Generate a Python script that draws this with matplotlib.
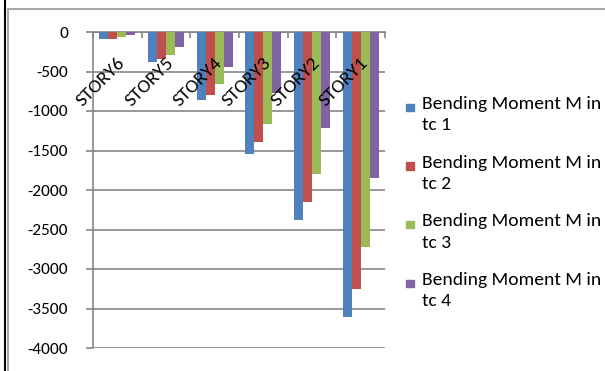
import numpy as np
import matplotlib.pyplot as plt
from matplotlib.lines import Line2D
from matplotlib.patches import Rectangle

plt.rcParams['font.family'] = ['Carlito', 'Lato', 'DejaVu Sans']

# 各层弯矩最小值 (tc 1 ~ tc 4)
stories = ['STORY6', 'STORY5', 'STORY4', 'STORY3', 'STORY2', 'STORY1']
tc1 = [-88, -386, -860, -1546, -2375, -3603]
tc2 = [-88, -343, -796, -1397, -2151, -3256]
tc3 = [-59, -288, -661, -1168, -1800, -2727]
tc4 = [-38, -190, -437, -767, -1219, -1846]
series = [tc1, tc2, tc3, tc4]
names = ['Bending Moment M in\ntc 1', 'Bending Moment M in\ntc 2',
         'Bending Moment M in\ntc 3', 'Bending Moment M in\ntc 4']
colors = ['#4F81BD', '#C0504D', '#9BBB59', '#8064A2']
yticks = np.arange(0, -4001, -500)

W, H = 605, 371
fig = plt.figure(figsize=(W / 100, H / 100), dpi=100)
ax = fig.add_axes([93 / W, 1 - 348 / H, 292 / W, 316 / H])

grid_c = '#868686'
x = np.arange(len(stories))
bw = 0.185
for k, (vals, c) in enumerate(zip(series, colors)):
    ax.bar(x + (k - 1.5) * bw, vals, width=bw, color=c, zorder=3)

ax.set_xlim(-0.5, len(stories) - 0.5)
ax.set_ylim(-4000, 0)
ax.set_yticks(yticks)
ax.set_yticklabels([str(v) for v in yticks])
ax.yaxis.grid(True, color=grid_c, lw=1.2, zorder=0)
ax.tick_params(axis='y', direction='out', length=5, width=1.2, color=grid_c,
               pad=13, labelsize=12.5)

# 分类轴在 0 处（顶部），刻度放在组边界
ax.xaxis.set_ticks_position('top')
ax.set_xticks([])
ax.set_xticks(np.arange(-0.5, len(stories)), minor=True)
ax.tick_params(axis='x', which='minor', direction='in', length=4, width=1.2,
               color=grid_c)
for side in ['right', 'bottom']:
    ax.spines[side].set_visible(False)
for side in ['left', 'top']:
    ax.spines[side].set_color(grid_c)
    ax.spines[side].set_linewidth(1.2)

for i, s in enumerate(stories):
    ax.annotate(s, xy=(i, 0), xytext=(5, -28), textcoords='offset pixels',
                rotation=45, rotation_mode='anchor', ha='right', va='center',
                fontsize=14, zorder=5)

# 图例
for k, (nm, c) in enumerate(zip(names, colors)):
    y0 = 1 - (107 + k * 58.7) / H
    fig.add_artist(Rectangle((406 / W, y0 - 4 / H), 7.5 / W, 7.5 / H,
                             transform=fig.transFigure, color=c))
    fig.text(422 / W, y0 + 11 / H, nm, fontsize=14, va='top', ha='left',
             linespacing=1.4)

# 外框
fig.add_artist(Line2D([4.5 / W, 4.5 / W], [0, 1], color='black', lw=1.5,
                      transform=fig.transFigure))
fig.add_artist(Line2D([8 / W, 8 / W, 1], [0, 1 - 8.5 / H, 1 - 8.5 / H],
                      color='#a6a6a6', lw=1.5, transform=fig.transFigure))

fig.savefig('out.png', dpi=100)
